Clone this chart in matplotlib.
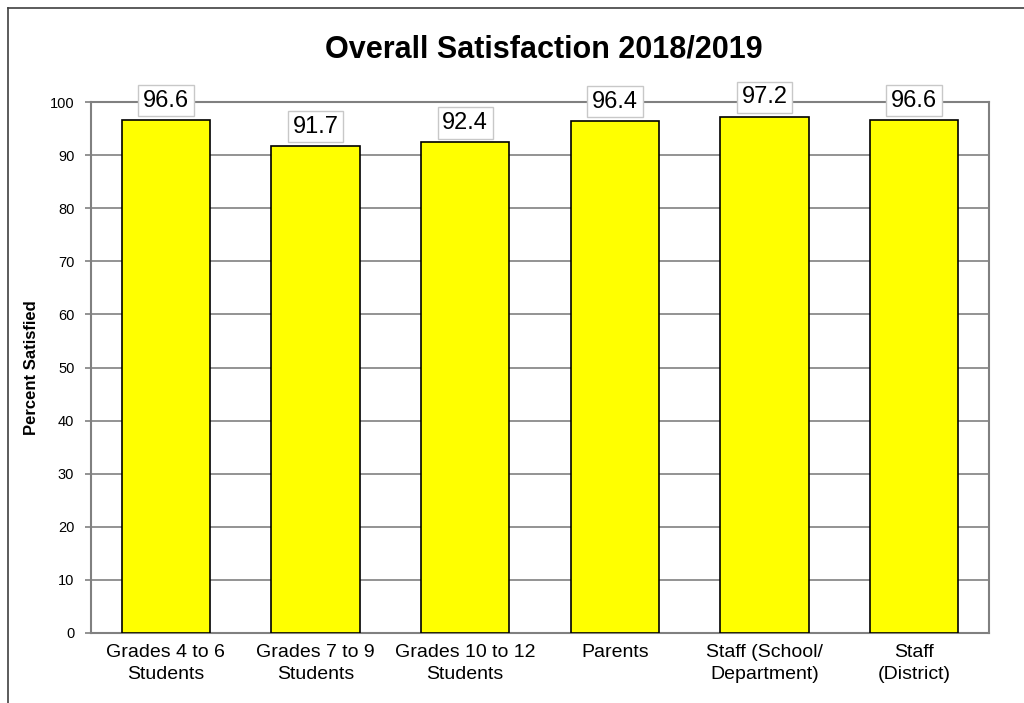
import numpy as np
import matplotlib.pyplot as plt
from matplotlib.lines import Line2D

plt.rcParams['font.family'] = ['Liberation Sans', 'DejaVu Sans']

categories = ['Grades 4 to 6\nStudents', 'Grades 7 to 9\nStudents', 'Grades 10 to 12\nStudents',
              'Parents', 'Staff (School/\nDepartment)', 'Staff\n(District)']
values = [96.6, 91.7, 92.4, 96.4, 97.2, 96.6]
yticks = list(range(0, 101, 10))

fig = plt.figure(figsize=(10.24, 7.03), dpi=100)
ax = fig.add_axes([91/1024, 1 - 633/703, (989 - 91)/1024, (633 - 102)/703])

x = np.arange(len(categories))
bars = ax.bar(x, values, width=0.59, color='#FFFF00', edgecolor='black', linewidth=1.2, zorder=3)

ax.set_xlim(-0.5, len(categories) - 0.5)
ax.set_ylim(0, 100)
ax.set_yticks(yticks)
ax.tick_params(axis='y', labelsize=10.5, length=4, color='#808080', width=1.2, pad=8)
ax.tick_params(axis='x', length=0, labelsize=14, pad=8)
ax.set_xticks(x)
ax.set_xticklabels(categories, linespacing=1.35)
ax.yaxis.grid(True, color='#808080', linewidth=1.2, zorder=0)
for s in ax.spines.values():
    s.set_color('#808080')
    s.set_linewidth(1.5)

ax.set_ylabel('Percent Satisfied', fontsize=12, fontweight='bold', labelpad=8)

for xi, v in zip(x, values):
    ax.annotate(f'{v}', (xi, v), xytext=(0, 14), textcoords='offset points',
                ha='center', va='center', fontsize=17, zorder=5,
                bbox=dict(boxstyle='square,pad=0.2', fc='white', ec='#C8C8C8', lw=1))

fig.text(544/1024, 1 - 50/703, 'Overall Satisfaction 2018/2019', ha='center', va='center',
         fontsize=22, fontweight='bold')

# outer chart frame (top and left edges visible)
fig.add_artist(Line2D([8/1024, 1.0], [1 - 8/703, 1 - 8/703], color='#404040', lw=1.2))
fig.add_artist(Line2D([8/1024, 8/1024], [0, 1 - 8/703], color='#404040', lw=1.2))

fig.savefig('out.png', dpi=100)
